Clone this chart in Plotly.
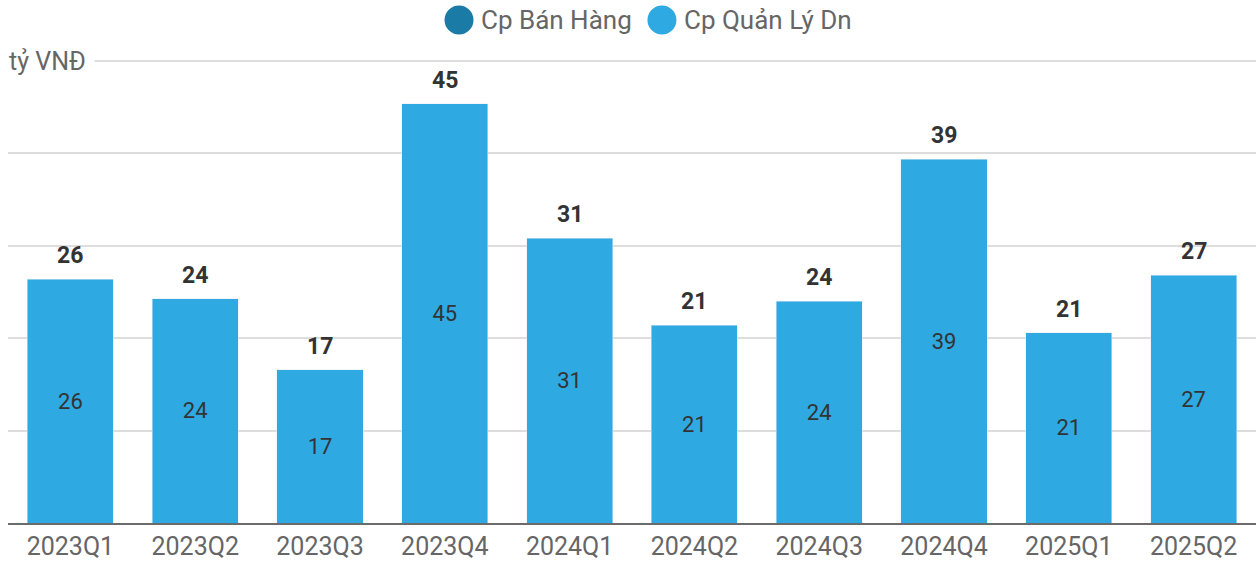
import plotly.graph_objects as go

categories = ["2023Q1", "2023Q2", "2023Q3", "2023Q4", "2024Q1",
              "2024Q2", "2024Q3", "2024Q4", "2025Q1", "2025Q2"]
cp_ban_hang = [0, 0, 0, 0, 0, 0, 0, 0, 0, 0]
cp_quan_ly = [26.4, 24.3, 16.6, 45.4, 30.8, 21.4, 24.0, 39.4, 20.6, 26.8]
totals = [a + b for a, b in zip(cp_ban_hang, cp_quan_ly)]
series_names = ["Cp Bán Hàng", "Cp Quản Lý Dn"]

FONT = "Roboto"
C_DARK = "#1a7ba6"
C_LIGHT = "#2ea9e1"
series_colors = [C_DARK, C_LIGHT]

fig = go.Figure()
fig.add_trace(go.Bar(x=categories, y=cp_ban_hang, marker_color=C_DARK,
                     name=series_names[0], showlegend=False, hoverinfo="skip"))
fig.add_trace(go.Bar(x=categories, y=cp_quan_ly, marker_color=C_LIGHT,
                     name=series_names[1], showlegend=False,
                     text=[f"{v:.0f}" for v in cp_quan_ly],
                     textposition="inside", insidetextanchor="middle",
                     textangle=0, constraintext="none",
                     textfont=dict(family=FONT, size=22, color="#333333")))

for c, t in zip(categories, totals):
    fig.add_annotation(x=c, y=t, text=f"<b>{t:.0f}</b>", showarrow=False,
                       yanchor="bottom", yshift=8,
                       font=dict(family=FONT, size=23, color="#333333"))

fig.add_annotation(xref="paper", yref="y", x=0, y=50, text="tỷ VNĐ",
                   showarrow=False, xanchor="left", yanchor="middle",
                   xshift=-8, bgcolor="white", borderpad=8,
                   font=dict(family=FONT, size=25, color="#666666"))

# legend (circles + labels) drawn above the plot
LEG_Y = 1.0864
circle_x = [0.3614, 0.5240]
label_x = [0.3774, 0.5401]
for name, col, cx, lx in zip(series_names, series_colors, circle_x, label_x):
    fig.add_shape(type="circle", xref="paper", yref="paper",
                  xsizemode="pixel", ysizemode="pixel",
                  xanchor=cx, yanchor=LEG_Y,
                  x0=-14.5, x1=14.5, y0=-14.5, y1=14.5,
                  fillcolor=col, line=dict(width=0))
    fig.add_annotation(xref="paper", yref="paper", x=lx, y=LEG_Y, text=name,
                       showarrow=False, xanchor="left", yanchor="middle",
                       font=dict(family=FONT, size=26, color="#666666"))

fig.update_layout(
    barmode="stack", bargap=0.31,
    width=1256, height=561,
    margin=dict(l=8, r=0, t=60, b=38),
    plot_bgcolor="white", paper_bgcolor="white",
    font=dict(family=FONT, color="#666666"),
    showlegend=False,
    xaxis=dict(showline=True, linecolor="#6b6b6b", linewidth=2,
               showgrid=False, ticks="", tickfont=dict(size=25, color="#666666"),
               fixedrange=True),
    yaxis=dict(range=[0, 50.12], dtick=10, showgrid=True, gridcolor="#dddddd",
               gridwidth=2, showticklabels=False, zeroline=False,
               fixedrange=True),
)

fig.write_html("out.html",
               config={"displayModeBar": False},
               post_script="document.body.style.margin='0';"
                           "document.body.style.overflow='hidden';")
